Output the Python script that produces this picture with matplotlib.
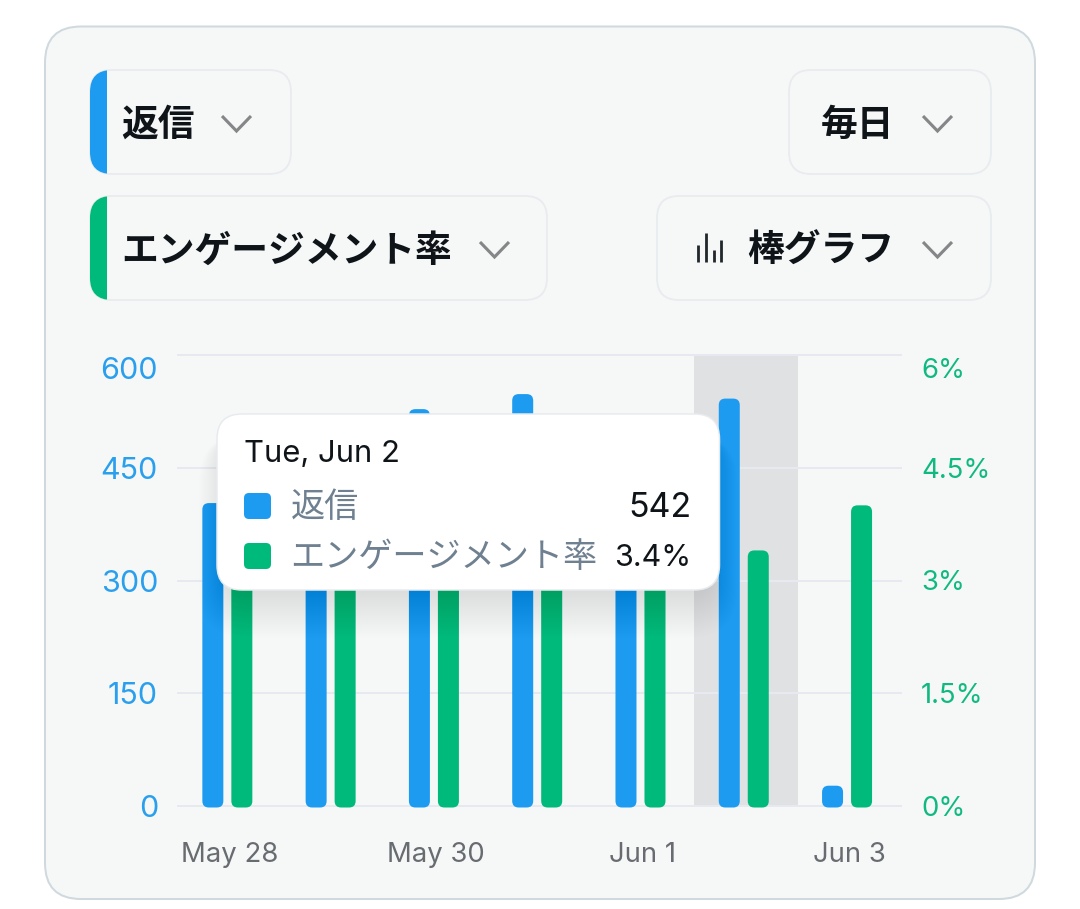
import matplotlib
matplotlib.use("Agg")
import matplotlib.pyplot as plt
from matplotlib.patches import FancyBboxPatch, Rectangle
from matplotlib.transforms import ScaledTranslation

# Datos del gráfico
tick_positions = [0, 2, 4, 6]
date_labels = ["May 28", "May 30", "Jun 1", "Jun 3"]
reply_counts = [403, 470, 528, 548, 500, 542, 27]
engagement_rates = [3.6, 4.1, 3.3, 3.8, 3.5, 3.4, 4.0]
reply_ticks = [0, 150, 300, 450, 600]
reply_tick_labels = ["0", "150", "300", "450", "600"]
rate_ticks = [0, 1.5, 3, 4.5, 6]
rate_tick_labels = ["0%", "1.5%", "3%", "4.5%", "6%"]
selected_day = 5
tooltip_date = "Tue, Jun 2"
tooltip_rows = [("返信", "542"), ("エンゲージメント率", "3.4%")]

BLUE = "#1D9BF0"
GREEN = "#00BA7C"
INK = "#0F1419"
LINE = "#E6EAF0"
CJK = ["Noto Sans CJK JP", "DejaVu Sans"]
PX = 0.72  # puntos por pixel a dpi 100

W, H = 1080, 909
plot_left, plot_right, plot_top, plot_bottom = 178, 901, 355, 806

fig = plt.figure(figsize=(W / 100, H / 100), dpi=100, facecolor="white")


def pixel_axes(zorder):
    a = fig.add_axes([0, 0, 1, 1], zorder=zorder)
    a.set_xlim(0, W)
    a.set_ylim(H, 0)
    a.axis("off")
    return a


def round_box(a, x0, y0, x1, y1, radius, **kw):
    box = FancyBboxPatch((x0, y0), x1 - x0, y1 - y0,
                         boxstyle=f"round,pad=0,rounding_size={radius}", **kw)
    a.add_patch(box)
    return box


def dropdown(a, x0, y0, x1, y1, chevron_x, accent=None):
    box = round_box(a, x0, y0, x1, y1, 22, facecolor="#F6F8F8",
                    edgecolor="#E8ECEF", linewidth=1.8 * PX)
    if accent:
        strip = Rectangle((x0, y0), 17, y1 - y0, facecolor=accent, edgecolor="none")
        a.add_patch(strip)
        strip.set_clip_path(box)
    cy = (y0 + y1) / 2 + 1
    a.plot([chevron_x, chevron_x + 14.5, chevron_x + 29], [cy - 7, cy + 8, cy - 7],
           color="#858688", lw=3.1 * PX, solid_capstyle="butt", solid_joinstyle="miter")


def draw_bars(a, centers, values, ymax, color):
    # barras redondeadas sobre la escala del eje
    px_x = 7 / (plot_right - plot_left)
    px_y = ymax / (plot_bottom - plot_top)
    width = 21 * px_x
    for c, v in zip(centers, values):
        a.add_patch(FancyBboxPatch(
            (c - width / 2, -1.5 * px_y), width, v + 1.5 * px_y,
            boxstyle=f"round,pad=0,rounding_size={6.5 * px_x}",
            mutation_aspect=px_y / px_x, facecolor=color, edgecolor="none",
            clip_on=False, zorder=3))


# Fondo de la tarjeta y selectores
back = pixel_axes(0)
round_box(back, 45, 26.5, 1035, 899, 36, facecolor="#F6F8F8",
          edgecolor="#CFD9DE", linewidth=2 * PX)
dropdown(back, 90, 70, 291, 174, 222, BLUE)
dropdown(back, 90, 196, 547, 300, 480, GREEN)
dropdown(back, 789, 70, 991, 174, 923)
dropdown(back, 657, 196, 991, 300, 923)

for x, y, label, ha in [(121, 125, "返信", "left"), (121, 251, "エンゲージメント率", "left"),
                        (894.5, 125, "毎日", "right"), (894.5, 251, "棒グラフ", "right")]:
    back.text(x, y, label, family=CJK, fontweight="bold", fontsize=36.8 * PX, color=INK,
              ha=ha, va="center")

# Icono de barras del selector de tipo de gráfico
for x, top in zip([697.5, 705.5, 713.5, 721], [245, 233, 250, 240]):
    back.plot([x, x], [top, 261.5], color="#22272B", lw=2.8 * PX, solid_capstyle="butt")

# Gráfico con doble eje
ax = fig.add_axes([plot_left / W, 1 - plot_bottom / H,
                   (plot_right - plot_left) / W, (plot_bottom - plot_top) / H], zorder=1)
ax.patch.set_visible(False)
ax.set_xlim(-0.5, 6.5)
ax.set_ylim(0, 600)
ax2 = ax.twinx()
ax2.set_zorder(2)
ax2.patch.set_visible(False)
ax2.set_ylim(0, 6)

ax.axvspan(selected_day - 0.5, selected_day + 0.5, facecolor="#DFE1E3", edgecolor="none", zorder=0)
ax.set_yticks(reply_ticks, reply_tick_labels)
ax.grid(True, axis="y", color=LINE, lw=2 * PX, zorder=1)
ax.set_axisbelow(False)
for line in ax.get_ygridlines():
    line.set_clip_on(False)
    line.set_zorder(1)

px_unit = 7 / (plot_right - plot_left)
draw_bars(ax, [i - 16.8 * px_unit for i in range(7)], reply_counts, 600, BLUE)
draw_bars(ax2, [i + 12.2 * px_unit for i in range(7)], engagement_rates, 6, GREEN)

ax.set_xticks(tick_positions, date_labels)
ax2.set_yticks(rate_ticks, rate_tick_labels)
ax.tick_params(axis="x", length=0, pad=36 * PX, labelsize=27.5 * PX, labelcolor="#686C70",
               labelfontfamily="Inter")
ax.tick_params(axis="y", length=0, pad=20 * PX, labelsize=30.5 * PX, labelcolor="#2A9FEE",
               labelfontfamily="Inter")
ax2.tick_params(axis="y", length=0, pad=20 * PX, labelsize=27.5 * PX, labelcolor="#10B981",
                labelfontfamily="Inter")
for a in (ax, ax2):
    for s in a.spines.values():
        s.set_visible(False)
    # la etiqueta superior baja para no salirse de la zona del gráfico
    top_label = a.get_yticklabels()[-1]
    top_label.set_transform(top_label.get_transform()
                            + ScaledTranslation(0, -13 / 100, fig.dpi_scale_trans))

# Tooltip con sombra suave, sobre todo hacia abajo
over = pixel_axes(3)
tip = (217, 414, 719.5, 590)
for i in range(26):
    grow = 40 - i * 1.8
    side = grow * 0.6 - 6
    round_box(over, tip[0] - side, tip[1] + 20, tip[2] + side, tip[3] + grow + 8,
              25 + max(grow * 0.6, 0), facecolor="black", edgecolor="none", alpha=0.0045)
round_box(over, *tip, 25, facecolor="white", edgecolor="#E8EBEE", linewidth=1.5 * PX)

over.text(244, 454, tooltip_date, family="Inter", fontsize=31 * PX, color=INK, va="center")
for (label, value), size, color, y in zip(tooltip_rows, [34, 30.5], [BLUE, GREEN], [506, 556]):
    round_box(over, 244, y - 13, 271, y + 13, 5, facecolor=color, edgecolor="none")
    over.text(290.5, y + 2, label, family=CJK, fontsize=34.2 * PX, color="#6F8090", va="center")
    over.text(691.5, y + 2, value, family="Inter", fontsize=size * PX, color=INK, ha="right", va="center")

fig.savefig("out.png", dpi=100)
